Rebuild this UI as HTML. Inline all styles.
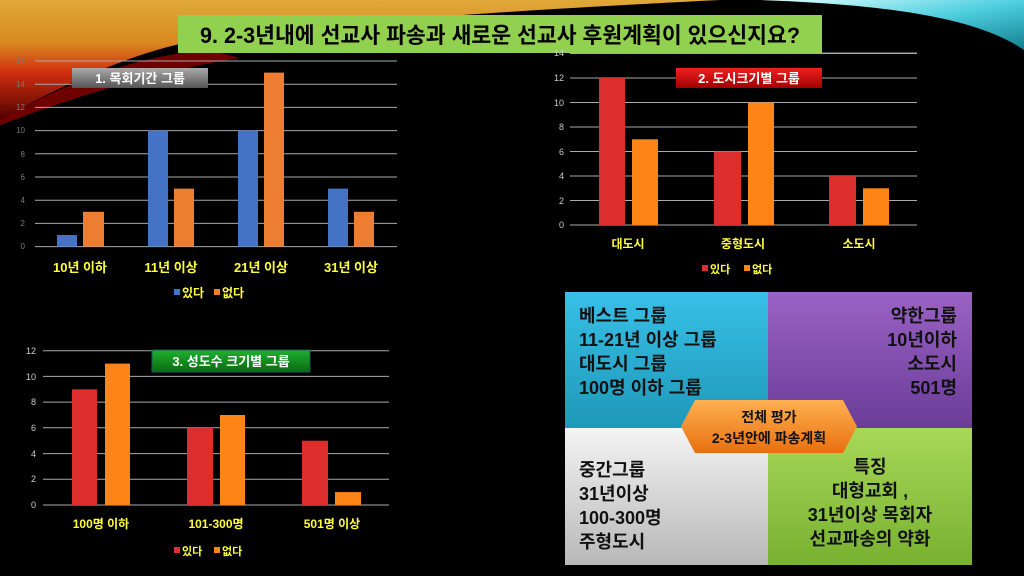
<!DOCTYPE html>
<html><head><meta charset="utf-8"><style>
html,body{margin:0;padding:0;background:#000;width:1024px;height:576px;overflow:hidden}
svg{display:block}
text{font-family:"Liberation Sans","Noto Sans CJK KR",sans-serif}
</style></head><body>
<svg width="1024" height="576" viewBox="0 0 1024 576" xmlns="http://www.w3.org/2000/svg">
<defs>
<linearGradient id="warm" x1="0" y1="0" x2="0" y2="1">
<stop offset="0" stop-color="#e0a838"/><stop offset="0.35" stop-color="#d88a20"/><stop offset="0.6" stop-color="#d03010"/><stop offset="1" stop-color="#500000"/>
</linearGradient>
<linearGradient id="cool" x1="0" y1="0" x2="1" y2="1">
<stop offset="0" stop-color="#e0ffff"/><stop offset="0.5" stop-color="#50d0e0"/><stop offset="1" stop-color="#108090"/>
</linearGradient>
<linearGradient id="gray" x1="0" y1="0" x2="0" y2="1"><stop offset="0" stop-color="#aaa"/><stop offset="1" stop-color="#555"/></linearGradient>
<linearGradient id="red" x1="0" y1="0" x2="0" y2="1"><stop offset="0" stop-color="#f02020"/><stop offset="1" stop-color="#a00000"/></linearGradient>
<linearGradient id="grn" x1="0" y1="0" x2="0" y2="1"><stop offset="0" stop-color="#20b030"/><stop offset="1" stop-color="#0a6a10"/></linearGradient>
<linearGradient id="qb" x1="0" y1="0" x2="0" y2="1"><stop offset="0" stop-color="#38c0e8"/><stop offset="1" stop-color="#1e98b8"/></linearGradient>
<linearGradient id="qp" x1="0" y1="0" x2="0" y2="1"><stop offset="0" stop-color="#9a62c4"/><stop offset="1" stop-color="#6a3c98"/></linearGradient>
<linearGradient id="qg" x1="0" y1="0" x2="0" y2="1"><stop offset="0" stop-color="#f4f4f4"/><stop offset="1" stop-color="#b8b8b8"/></linearGradient>
<linearGradient id="ql" x1="0" y1="0" x2="0" y2="1"><stop offset="0" stop-color="#a8d858"/><stop offset="1" stop-color="#78b030"/></linearGradient>
<linearGradient id="hx" x1="0" y1="0" x2="0" y2="1"><stop offset="0" stop-color="#ffb050"/><stop offset="1" stop-color="#e87010"/></linearGradient>
</defs>
<!-- background swirls -->
<path d="M0,0 L720,0 C560,8 350,20 200,40 C140,50 70,80 0,120 Z" fill="url(#warm)"/>
<path d="M0,120 C70,80 140,55 210,50 L240,58 C160,70 80,95 0,125 Z" fill="#8a0000" opacity="0.8"/>
<path d="M760,0 L1024,0 L1024,50 C980,20 900,5 760,0 Z" fill="url(#cool)"/>
<!-- title -->
<rect x="178" y="15" width="644" height="38" fill="#92d050"/>
<text x="500" y="43" font-size="22" font-weight="bold" text-anchor="middle" fill="#000" textLength="600" lengthAdjust="spacingAndGlyphs">9. 2-3년내에 선교사 파송과 새로운 선교사 후원계획이 있으신지요?</text>
<line x1="822" y1="53" x2="917" y2="53" stroke="#999" stroke-width="1"/>

<!-- chart 1 -->
<g stroke="#aaa" stroke-width="1">
<line x1="35" y1="61" x2="397" y2="61"/><line x1="35" y1="84.2" x2="397" y2="84.2"/><line x1="35" y1="107.4" x2="397" y2="107.4"/><line x1="35" y1="130.6" x2="397" y2="130.6"/><line x1="35" y1="153.8" x2="397" y2="153.8"/><line x1="35" y1="177" x2="397" y2="177"/><line x1="35" y1="200.2" x2="397" y2="200.2"/><line x1="35" y1="223.4" x2="397" y2="223.4"/><line x1="35" y1="246.6" x2="397" y2="246.6"/>
</g>
<g font-size="8" fill="#777" text-anchor="end">
<text x="25" y="64">16</text><text x="25" y="87">14</text><text x="25" y="110">12</text><text x="25" y="133">10</text><text x="25" y="157">8</text><text x="25" y="180">6</text><text x="25" y="203">4</text><text x="25" y="226">2</text><text x="25" y="249">0</text>
</g>
<g fill="#4472c4"><rect x="57" y="235" width="20" height="11.6"/><rect x="148" y="130.6" width="20" height="116"/><rect x="238" y="130.6" width="20" height="116"/><rect x="328" y="188.6" width="20" height="58"/></g>
<g fill="#ed7d31"><rect x="83" y="211.8" width="21" height="34.8"/><rect x="174" y="188.6" width="20" height="58"/><rect x="264" y="72.6" width="20" height="174"/><rect x="354" y="211.8" width="20" height="34.8"/></g>
<g font-size="13" font-weight="bold" fill="#ffff40" text-anchor="middle">
<text x="80" y="272">10년 이하</text><text x="171" y="272">11년 이상</text><text x="261" y="272">21년 이상</text><text x="351" y="272">31년 이상</text>
</g>
<rect x="174" y="289" width="6" height="6" fill="#4472c4"/><text x="182" y="297" font-size="12" font-weight="bold" fill="#ffff40">있다</text>
<rect x="214" y="289" width="6" height="6" fill="#ed7d31"/><text x="222" y="297" font-size="12" font-weight="bold" fill="#ffff40">없다</text>
<rect x="72" y="68" width="136" height="20" fill="url(#gray)"/>
<text x="140" y="83" font-size="13" font-weight="bold" fill="#fff" text-anchor="middle">1. 목회기간 그룹</text>

<!-- chart 2 -->
<g stroke="#aaa" stroke-width="1">
<line x1="570" y1="53.5" x2="917" y2="53.5"/><line x1="570" y1="78" x2="917" y2="78"/><line x1="570" y1="102.5" x2="917" y2="102.5"/><line x1="570" y1="127" x2="917" y2="127"/><line x1="570" y1="151.5" x2="917" y2="151.5"/><line x1="570" y1="176" x2="917" y2="176"/><line x1="570" y1="200.5" x2="917" y2="200.5"/><line x1="570" y1="225" x2="917" y2="225"/>
</g>
<g font-size="9" fill="#ccc" text-anchor="end">
<text x="564" y="56">14</text><text x="564" y="81">12</text><text x="564" y="106">10</text><text x="564" y="130">8</text><text x="564" y="155">6</text><text x="564" y="179">4</text><text x="564" y="204">2</text><text x="564" y="228">0</text>
</g>
<g fill="#dd2e2e"><rect x="599" y="78" width="26" height="147"/><rect x="714" y="151.5" width="27" height="73.5"/><rect x="829" y="176" width="27" height="49"/></g>
<g fill="#ff8418"><rect x="632" y="139.3" width="26" height="85.7"/><rect x="748" y="102.5" width="26" height="122.5"/><rect x="863" y="188.3" width="26" height="36.7"/></g>
<g font-size="12" font-weight="bold" fill="#ffff40" text-anchor="middle">
<text x="628" y="248">대도시</text><text x="743" y="248">중형도시</text><text x="859" y="248">소도시</text>
</g>
<rect x="702" y="265" width="6" height="6" fill="#dd2e2e"/><text x="710" y="273" font-size="11" font-weight="bold" fill="#ffff40">있다</text>
<rect x="744" y="265" width="6" height="6" fill="#ff8418"/><text x="752" y="273" font-size="11" font-weight="bold" fill="#ffff40">없다</text>
<rect x="676" y="68" width="146" height="20" fill="url(#red)"/>
<text x="749" y="83" font-size="13" font-weight="bold" fill="#fff" text-anchor="middle">2. 도시크기별 그룹</text>

<!-- chart 3 -->
<g stroke="#aaa" stroke-width="1">
<line x1="43" y1="350.7" x2="389" y2="350.7"/><line x1="43" y1="376.4" x2="389" y2="376.4"/><line x1="43" y1="402.1" x2="389" y2="402.1"/><line x1="43" y1="427.8" x2="389" y2="427.8"/><line x1="43" y1="453.6" x2="389" y2="453.6"/><line x1="43" y1="479.3" x2="389" y2="479.3"/><line x1="43" y1="505" x2="389" y2="505"/>
</g>
<g font-size="9" fill="#ccc" text-anchor="end">
<text x="36" y="354">12</text><text x="36" y="380">10</text><text x="36" y="405">8</text><text x="36" y="431">6</text><text x="36" y="457">4</text><text x="36" y="482">2</text><text x="36" y="508">0</text>
</g>
<g fill="#dd2e2e"><rect x="72" y="389.3" width="25" height="115.7"/><rect x="187" y="427.8" width="26" height="77.2"/><rect x="302" y="440.7" width="26" height="64.3"/></g>
<g fill="#ff8418"><rect x="105" y="363.6" width="25" height="141.4"/><rect x="220" y="415" width="25" height="90"/><rect x="335" y="492.1" width="26" height="12.9"/></g>
<g font-size="12" font-weight="bold" fill="#ffff40" text-anchor="middle">
<text x="101" y="528">100명 이하</text><text x="216" y="528">101-300명</text><text x="332" y="528">501명 이상</text>
</g>
<rect x="174" y="547" width="6" height="6" fill="#dd2e2e"/><text x="182" y="555" font-size="11" font-weight="bold" fill="#ffff40">있다</text>
<rect x="214" y="547" width="6" height="6" fill="#ff8418"/><text x="222" y="555" font-size="11" font-weight="bold" fill="#ffff40">없다</text>
<rect x="152" y="350" width="158" height="22" fill="url(#grn)" stroke="#1a5a60" stroke-width="1"/>
<text x="231" y="366" font-size="13" font-weight="bold" fill="#fff" text-anchor="middle">3. 성도수 크기별 그룹</text>

<!-- quadrant -->
<rect x="565" y="292" width="203" height="136" fill="url(#qb)"/>
<rect x="768" y="292" width="204" height="136" fill="url(#qp)"/>
<rect x="565" y="428" width="203" height="137" fill="url(#qg)"/>
<rect x="768" y="428" width="204" height="137" fill="url(#ql)"/>
<g font-size="18" font-weight="bold" fill="#111">
<text x="579" y="322">베스트 그룹</text><text x="579" y="346">11-21년 이상 그룹</text><text x="579" y="370">대도시 그룹</text><text x="579" y="394">100명 이하 그룹</text>
<g text-anchor="end"><text x="957" y="322">약한그룹</text><text x="957" y="346">10년이하</text><text x="957" y="370">소도시</text><text x="957" y="394">501명</text></g>
<text x="579" y="476">중간그룹</text><text x="579" y="500">31년이상</text><text x="579" y="524">100-300명</text><text x="579" y="548">주형도시</text>
<g text-anchor="middle"><text x="870" y="473">특징</text><text x="870" y="497">대형교회 ,</text><text x="870" y="521">31년이상 목회자</text><text x="870" y="545">선교파송의 약화</text></g>
</g>
<polygon points="695,400 843,400 857,426.5 843,453 695,453 681,426.5" fill="url(#hx)"/>
<g font-size="14" font-weight="bold" fill="#111" text-anchor="middle">
<text x="769" y="422">전체 평가</text><text x="769" y="443">2-3년안에 파송계획</text>
</g>
</svg>
</body></html>
